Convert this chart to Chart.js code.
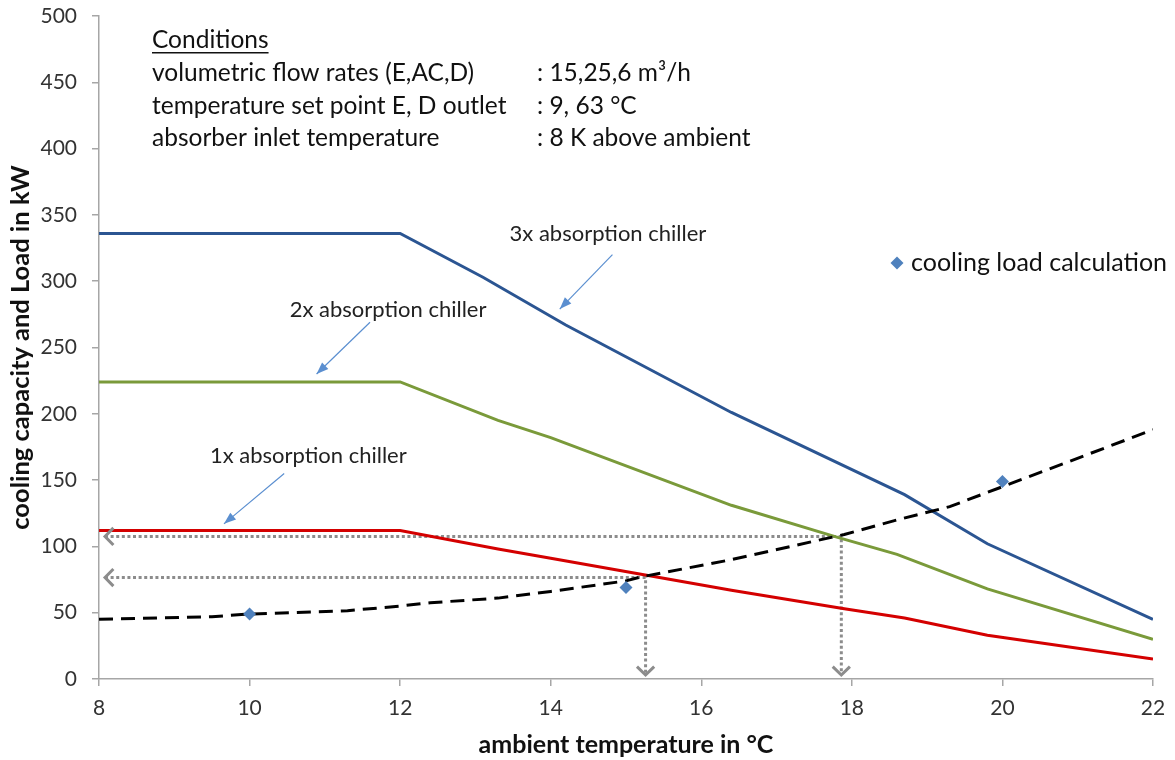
<!DOCTYPE html>
<html>
<head>
<meta charset="utf-8">
<script src="https://cdn.jsdelivr.net/npm/chart.js@4.4.1/dist/chart.umd.min.js"></script>
<style>
  html, body { margin: 0; padding: 0; background: #fff; }
</style>
</head>
<body>
<canvas id="chart" width="1175" height="760"></canvas>
<script>
// chiller capacity curves (ambient temperature in °C -> kW)
const chiller3X = [8, 12, 13.1, 14.2, 16.4, 18.7, 19.8, 22];
const chiller3Y = [336, 336, 303, 267, 201, 139, 102, 45];
const chiller2X = [8, 12, 13.3, 14.0, 16.4, 17.8, 18.6, 19.8, 22];
const chiller2Y = [224, 224, 195, 182, 131, 107, 94, 68, 30];
const chiller1X = [8, 12, 13.3, 14.0, 16.4, 17.9, 18.7, 19.8, 22];
const chiller1Y = [112, 112, 98, 91, 67, 53, 46, 33, 15];

// cooling load curve (dashed) and calculated points
const loadX = [8, 9.5, 10, 11.3, 12, 12.4, 13.3, 14, 15, 15.2, 16.4, 17.9, 18.6, 19.3, 20, 22];
const loadY = [45, 47, 49, 51.5, 55, 57.5, 61, 66, 74, 77, 90, 109, 120, 130, 145, 188];
const calcX = [10, 15, 20];
const calcY = [49, 69, 149];

// intersection read-offs (dotted arrows)
const guideX = [17.86, 15.26];
const guideY = [107.5, 76.5];
const guideTipX = 8.08;
const guideTipY = 3;

// annotation labels and their arrows (data coordinates)
const noteText = ['3x absorption chiller', '2x absorption chiller', '1x absorption chiller'];
const noteX = [14.76, 11.84, 10.78];
const noteY = [336, 278, 168];
const noteFromX = [14.82, 11.6, 10.46];
const noteFromY = [320, 269, 155];
const noteToX = [14.12, 10.89, 9.66];
const noteToY = [279, 230, 117];

// axis ticks
const xTicks = [8, 10, 12, 14, 16, 18, 20, 22];
const yTicks = [0, 50, 100, 150, 200, 250, 300, 350, 400, 450, 500];

const FONT = 'Lato, "Open Sans", sans-serif';

const pts = (xs, ys) => xs.map((x, i) => ({ x: x, y: ys[i] }));

const datasets = [
  { label: 'cooling load calculation', data: pts(calcX, calcY), showLine: false,
    pointStyle: 'rectRot', pointRadius: 6.5, backgroundColor: '#4f81bd', borderColor: '#4f81bd', borderWidth: 0 },
  { label: 'load', data: pts(loadX, loadY), showLine: true, borderColor: '#000', borderWidth: 3,
    borderDash: [14, 8], pointRadius: 0, tension: 0 },
  { label: '3x', data: pts(chiller3X, chiller3Y), showLine: true, borderColor: '#2b5592', borderWidth: 3, pointRadius: 0 },
  { label: '2x', data: pts(chiller2X, chiller2Y), showLine: true, borderColor: '#7a9a3a', borderWidth: 3, pointRadius: 0 },
  { label: '1x', data: pts(chiller1X, chiller1Y), showLine: true, borderColor: '#d40000', borderWidth: 3, pointRadius: 0 }
];
guideX.forEach((gx, i) => {
  datasets.push({ label: 'guide' + i,
    data: [{ x: guideTipX, y: guideY[i] }, { x: gx, y: guideY[i] }, { x: gx, y: guideTipY }],
    showLine: true, borderColor: '#8c8c8c', borderWidth: 3, borderDash: [3, 2.6], borderCapStyle: 'butt',
    pointRadius: 0 });
});
noteText.forEach((t, i) => {
  datasets.push({ label: 'note' + i,
    data: [{ x: noteFromX[i], y: noteFromY[i] }, { x: noteToX[i], y: noteToY[i] }],
    showLine: true, borderColor: '#5b8fd0', borderWidth: 1.2, pointRadius: 0 });
});

function chevron(ctx, tx, ty, dx, dy) {
  // open arrow head at (tx,ty) pointing along (dx,dy)
  const a = Math.atan2(dy, dx), len = 12, spread = 0.8;
  ctx.beginPath();
  ctx.moveTo(tx - len * Math.cos(a - spread), ty - len * Math.sin(a - spread));
  ctx.lineTo(tx, ty);
  ctx.lineTo(tx - len * Math.cos(a + spread), ty - len * Math.sin(a + spread));
  ctx.stroke();
}

function triangle(ctx, tx, ty, dx, dy) {
  const a = Math.atan2(dy, dx), len = 12, half = 4.5;
  const bx = tx - len * Math.cos(a), by = ty - len * Math.sin(a);
  ctx.beginPath();
  ctx.moveTo(tx, ty);
  ctx.lineTo(bx + half * Math.sin(a), by - half * Math.cos(a));
  ctx.lineTo(bx - half * Math.sin(a), by + half * Math.cos(a));
  ctx.closePath();
  ctx.fill();
}

const overlay = {
  id: 'overlay',
  afterDatasetsDraw(chart) {
    const { ctx, chartArea, scales: { x, y } } = chart;
    ctx.save();

    // dotted arrow heads
    ctx.strokeStyle = '#8c8c8c';
    ctx.lineWidth = 3;
    guideX.forEach((gx, i) => {
      chevron(ctx, x.getPixelForValue(guideTipX), y.getPixelForValue(guideY[i]), -1, 0);
      chevron(ctx, x.getPixelForValue(gx), y.getPixelForValue(guideTipY), 0, 1);
    });

    // annotation arrow heads and labels
    ctx.fillStyle = '#5b8fd0';
    noteText.forEach((t, i) => {
      const fx = x.getPixelForValue(noteFromX[i]), fy = y.getPixelForValue(noteFromY[i]);
      const tx = x.getPixelForValue(noteToX[i]), ty = y.getPixelForValue(noteToY[i]);
      triangle(ctx, tx, ty, tx - fx, ty - fy);
    });
    ctx.fillStyle = '#222';
    ctx.font = '22px ' + FONT;
    ctx.textAlign = 'center';
    ctx.textBaseline = 'middle';
    noteText.forEach((t, i) => {
      ctx.fillText(t, x.getPixelForValue(noteX[i]), y.getPixelForValue(noteY[i]));
    });

    // conditions box
    const left = chartArea.left + 53;
    const colon = chartArea.left + 438;
    const top = chartArea.top + 24;
    const step = 32.8;
    ctx.textAlign = 'left';
    ctx.font = '24.5px ' + FONT;
    ctx.fillStyle = '#111';
    ctx.fillText('Conditions', left, top);
    const w = ctx.measureText('Conditions').width;
    ctx.fillRect(left, top + 12, w, 1.5);
    const rows = [
      ['volumetric flow rates (E,AC,D)', ': 15,25,6 m³/h'],
      ['temperature set point E, D outlet', ': 9, 63 °C'],
      ['absorber inlet temperature', ': 8 K above ambient']
    ];
    rows.forEach((r, i) => {
      ctx.fillText(r[0], left, top + step * (i + 1));
      ctx.fillText(r[1], colon, top + step * (i + 1));
    });

    // legend
    const lx = chartArea.right - 256, ly = chartArea.top + 247;
    ctx.fillStyle = '#4f81bd';
    ctx.beginPath();
    ctx.moveTo(lx, ly - 6.5); ctx.lineTo(lx + 6.5, ly); ctx.lineTo(lx, ly + 6.5); ctx.lineTo(lx - 6.5, ly);
    ctx.closePath();
    ctx.fill();
    ctx.fillStyle = '#111';
    ctx.font = '25px ' + FONT;
    ctx.fillText('cooling load calculation', lx + 14, ly);

    ctx.restore();
  }
};

new Chart(document.getElementById('chart'), {
  type: 'scatter',
  data: { datasets: datasets },
  options: {
    responsive: false,
    animation: false,
    layout: { padding: { left: 0, right: 22, top: 16, bottom: 0 } },
    plugins: { legend: { display: false }, tooltip: { enabled: false } },
    scales: {
      x: {
        type: 'linear', min: 8, max: 22,
        afterFit: s => { s.height = 81; s.paddingLeft = 0; s.paddingRight = 0; },
        afterBuildTicks: s => { s.ticks = xTicks.map(v => ({ value: v })); },
        grid: { drawOnChartArea: false, drawTicks: true, tickLength: 7, color: '#a6a6a6', lineWidth: 1.5 },
        border: { display: true, color: '#a6a6a6', width: 1.5 },
        ticks: { color: '#333', font: { family: FONT, size: 21 }, padding: 10, maxRotation: 0 },
        title: { display: true, text: 'ambient temperature in °C', color: '#111',
                 font: { family: FONT, size: 25, weight: 'bold' }, padding: { top: 0, bottom: 0 } }
      },
      y: {
        type: 'linear', min: 0, max: 500,
        afterFit: s => { s.width = 99; s.paddingTop = 0; s.paddingBottom = 0; },
        afterBuildTicks: s => { s.ticks = yTicks.map(v => ({ value: v })); },
        grid: { drawOnChartArea: false, drawTicks: true, tickLength: 7, color: '#a6a6a6', lineWidth: 1.5 },
        border: { display: true, color: '#a6a6a6', width: 1.5 },
        ticks: { color: '#333', font: { family: FONT, size: 21 }, padding: 15 },
        title: { display: true, text: 'cooling capacity and Load in kW', color: '#111',
                 font: { family: FONT, size: 25.5, weight: 'bold' }, padding: { top: 5, bottom: 0 } }
      }
    }
  },
  plugins: [overlay]
});
</script>
</body>
</html>
